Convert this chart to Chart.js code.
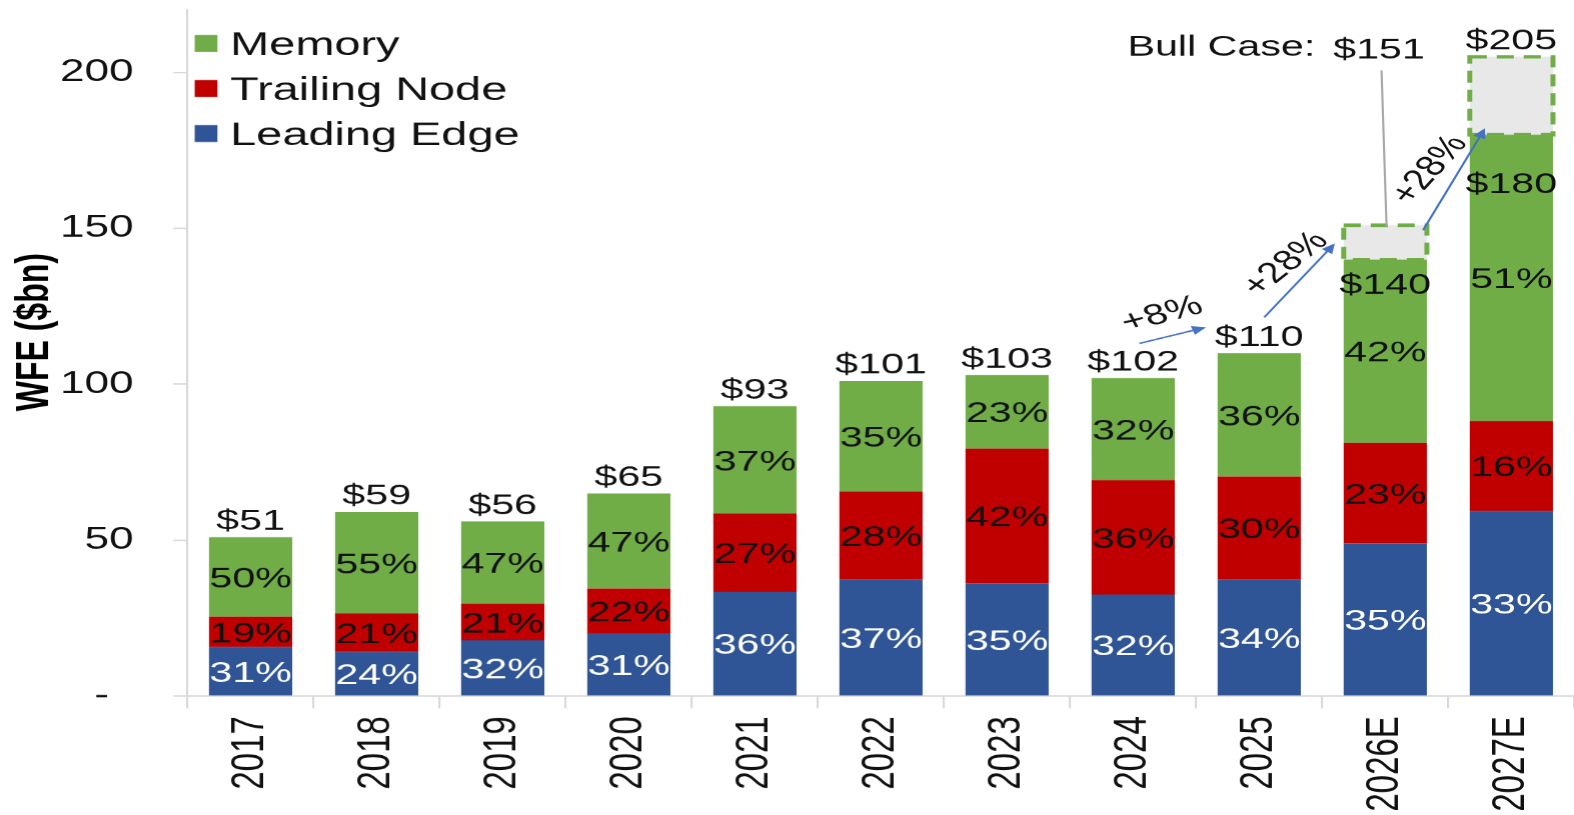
<!DOCTYPE html>
<html>
<head>
<meta charset="utf-8">
<script src="https://cdn.jsdelivr.net/npm/chart.js@4.4.1/dist/chart.umd.min.js"></script>
<style>
  html, body { margin: 0; padding: 0; background: #fff; overflow: hidden; }
  /* the reference picture is stretched sideways, so the chart is drawn narrow and widened */
  #wrap { position: relative; width: 1108px; height: 815px; transform: scaleX(1.4206); transform-origin: 0 0; }
</style>
</head>
<body>
<div id="wrap"><canvas id="wfeChart"></canvas></div>
<script>
const years = ['2017', '2018', '2019', '2020', '2021', '2022', '2023', '2024', '2025', '2026E', '2027E'];
const totals = [51, 59, 56, 65, 93, 101, 103, 102, 110, 140, 180];
const bullTotals = [null, null, null, null, null, null, null, null, null, 151, 205];

// $bn per segment
const leadingEdge = [15.8, 14.2, 17.9, 20.2, 33.5, 37.4, 36.1, 32.6, 37.4, 49.0, 59.4];
const trailingNode = [9.7, 12.4, 11.8, 14.3, 25.1, 28.3, 43.3, 36.7, 33.0, 32.2, 28.8];
const memory = [25.5, 32.4, 26.3, 30.5, 34.4, 35.3, 23.6, 32.7, 39.6, 58.8, 91.8];
const bullCase = [null, null, null, null, null, null, null, null, null, 11, 25];

// share labels (%)
const leadingShare = [31, 24, 32, 31, 36, 37, 35, 32, 34, 35, 33];
const trailingShare = [19, 21, 21, 22, 27, 28, 42, 36, 30, 23, 16];
const memoryShare = [50, 55, 47, 47, 37, 35, 23, 32, 36, 42, 51];

const growthLabels = ['+8%', '+28%', '+28%'];
const yTicks = [0, 50, 100, 150, 200];
const yTitle = 'WFE ($bn)';

const GREEN = '#70ad47', RED = '#c00000', BLUE = '#2f5597', GREY = '#e8e8e8';
const ARROW = '#4472c4', INK = '#111111';
const FONT = "'Liberation Sans', Arial, sans-serif";

Chart.defaults.font.family = FONT;
Chart.defaults.color = INK;

function pt(chart, idx, val) {
  return [chart.scales.x.getPixelForValue(idx), chart.scales.y.getPixelForValue(val)];
}

function centerText(ctx, text, x, y, size, color, rot, weight) {
  ctx.save();
  ctx.translate(x, y);
  if (rot) ctx.rotate(rot * Math.PI / 180);
  ctx.font = (weight || '') + ' ' + size + 'px ' + FONT;
  ctx.fillStyle = color;
  ctx.textAlign = 'center';
  ctx.textBaseline = 'alphabetic';
  ctx.fillText(text, 0, size * 0.36);
  ctx.restore();
}

const wfeLabels = {
  id: 'wfeLabels',
  afterDatasetsDraw(chart) {
    const ctx = chart.ctx;
    const y = chart.scales.y;

    // dashed outline round the bull case boxes
    chart.getDatasetMeta(3).data.forEach((bar, i) => {
      if (bullCase[i] == null) return;
      const p = bar.getProps(['x', 'y', 'base', 'width'], true);
      ctx.save();
      ctx.setLineDash([12, 7]);
      ctx.lineWidth = 3.5;
      ctx.strokeStyle = GREEN;
      ctx.strokeRect(p.x - p.width / 2, p.y, p.width, p.base - p.y);
      ctx.restore();
    });

    // share labels in the middle of each segment
    [[0, leadingShare, '#ffffff'], [1, trailingShare, INK], [2, memoryShare, INK]].forEach(([di, shares, col]) => {
      chart.getDatasetMeta(di).data.forEach((bar, i) => {
        const p = bar.getProps(['x', 'y', 'base'], true);
        centerText(ctx, shares[i] + '%', p.x, (p.y + p.base) / 2, 29, col);
      });
    });

    // totals above the bars
    chart.getDatasetMeta(2).data.forEach((bar, i) => {
      const top = bullTotals[i] != null ? bullTotals[i] : totals[i];
      if (bullTotals[i] != null && i === 9) return; // $151 is drawn with its leader line
      centerText(ctx, '$' + top, bar.x, y.getPixelForValue(top) - 18, 29, INK);
    });

    // base case totals inside the forecast bars
    let p = pt(chart, 9.0, 132.4);
    centerText(ctx, '$' + totals[9], p[0], p[1], 29, INK);
    p = pt(chart, 10.0, 164.7);
    centerText(ctx, '$' + totals[10], p[0], p[1], 29, INK);

    // bull case caption and leader line
    p = pt(chart, 7.70, 208.7);
    centerText(ctx, 'Bull Case:', p[0], p[1], 29, INK);
    p = pt(chart, 8.95, 207.7);
    centerText(ctx, '$' + bullTotals[9], p[0], p[1], 29, INK);
    const a = pt(chart, 8.97, 200.6), b = pt(chart, 9.01, 150.3);
    ctx.save();
    ctx.strokeStyle = '#a6a6a6';
    ctx.lineWidth = 1.5;
    ctx.beginPath();
    ctx.moveTo(a[0], a[1]);
    ctx.lineTo(b[0], b[1]);
    ctx.stroke();
    ctx.restore();

    // growth arrows
    const arrows = [
      [[7.05, 113.1], [7.58, 118.3], [7.22, 123.1], -20],
      [[8.04, 121.5], [8.60, 145.2], [8.19, 139.1], -48],
      [[9.30, 149.4], [9.79, 182.1], [9.33, 169.2], -57]
    ];
    arrows.forEach(([from, to, lab, rot], k) => {
      const s = pt(chart, from[0], from[1]), e = pt(chart, to[0], to[1]);
      const ang = Math.atan2(e[1] - s[1], e[0] - s[0]);
      ctx.save();
      ctx.strokeStyle = ARROW;
      ctx.fillStyle = ARROW;
      ctx.lineWidth = 1.6;
      ctx.beginPath();
      ctx.moveTo(s[0], s[1]);
      ctx.lineTo(e[0] - 7 * Math.cos(ang), e[1] - 7 * Math.sin(ang));
      ctx.stroke();
      ctx.translate(e[0], e[1]);
      ctx.rotate(ang);
      ctx.beginPath();
      ctx.moveTo(0, 0);
      ctx.lineTo(-10, -4.5);
      ctx.lineTo(-10, 4.5);
      ctx.closePath();
      ctx.fill();
      ctx.restore();
      const l = pt(chart, lab[0], lab[1]);
      centerText(ctx, growthLabels[k], l[0], l[1], 29, INK, rot);
    });
  },
  afterDraw(chart) {
    const ctx = chart.ctx;
    const area = chart.chartArea;

    // axis title, sitting a little above the middle of the plot
    const ty = (area.top + area.bottom) / 2 - 21;
    ctx.save();
    ctx.translate(25, ty);
    ctx.rotate(-Math.PI / 2);
    ctx.font = 'bold 32px ' + FONT;
    ctx.fillStyle = '#000';
    ctx.textAlign = 'center';
    ctx.textBaseline = 'middle';
    ctx.fillText(yTitle, 0, 0);
    ctx.restore();

    // legend in the top left corner of the plot
    const rows = [[2, GREEN], [1, RED], [0, BLUE]];
    rows.forEach(([di, col], r) => {
      const cy = area.top + 33.5 + r * 45;
      ctx.save();
      ctx.fillStyle = col;
      ctx.fillRect(area.left + 5, cy - 8.5, 16, 17);
      ctx.font = '33px ' + FONT;
      ctx.fillStyle = INK;
      ctx.textBaseline = 'alphabetic';
      ctx.textAlign = 'left';
      ctx.fillText(chart.data.datasets[di].label, area.left + 30, cy + 11.5);
      ctx.restore();
    });
  }
};

new Chart(document.getElementById('wfeChart'), {
  type: 'bar',
  data: {
    labels: years,
    datasets: [
      { label: 'Leading Edge', data: leadingEdge, backgroundColor: BLUE },
      { label: 'Trailing Node', data: trailingNode, backgroundColor: RED },
      { label: 'Memory', data: memory, backgroundColor: GREEN },
      { label: 'Bull Case', data: bullCase, backgroundColor: GREY }
    ]
  },
  options: {
    responsive: true,
    maintainAspectRatio: false,
    animation: false,
    devicePixelRatio: 1.42,
    layout: { padding: { top: 10, left: 0, right: 0, bottom: 0 } },
    datasets: { bar: { categoryPercentage: 1, barPercentage: 0.66, borderWidth: 0 } },
    plugins: {
      legend: { display: false },
      tooltip: { enabled: false }
    },
    scales: {
      x: {
        stacked: true,
        grid: { display: true, drawOnChartArea: false, offset: true, color: '#d9d9d9', tickLength: 12, lineWidth: 1.5 },
        border: { color: '#d9d9d9', width: 1.5 },
        ticks: { minRotation: 90, maxRotation: 90, padding: 8, color: INK, font: { size: 33 } },
        afterFit(scale) {
          scale.height = 119;
          scale.paddingLeft = 0;
          scale.paddingRight = 0;
        }
      },
      y: {
        stacked: true,
        min: 0,
        max: 220,
        grid: { display: true, drawOnChartArea: false, color: '#d9d9d9', tickLength: 10, lineWidth: 1.5 },
        border: { color: '#d9d9d9', width: 1.5 },
        afterBuildTicks(scale) { scale.ticks = yTicks.map(v => ({ value: v })); },
        ticks: {
          padding: 28,
          color: INK,
          font: { size: 31 },
          callback: v => (v === 0 ? '-  ' : v)
        },
        afterFit(scale) {
          scale.width = 132;
          scale.paddingTop = 0;
          scale.paddingBottom = 0;
        }
      }
    }
  },
  plugins: [wfeLabels]
});
</script>
</body>
</html>
